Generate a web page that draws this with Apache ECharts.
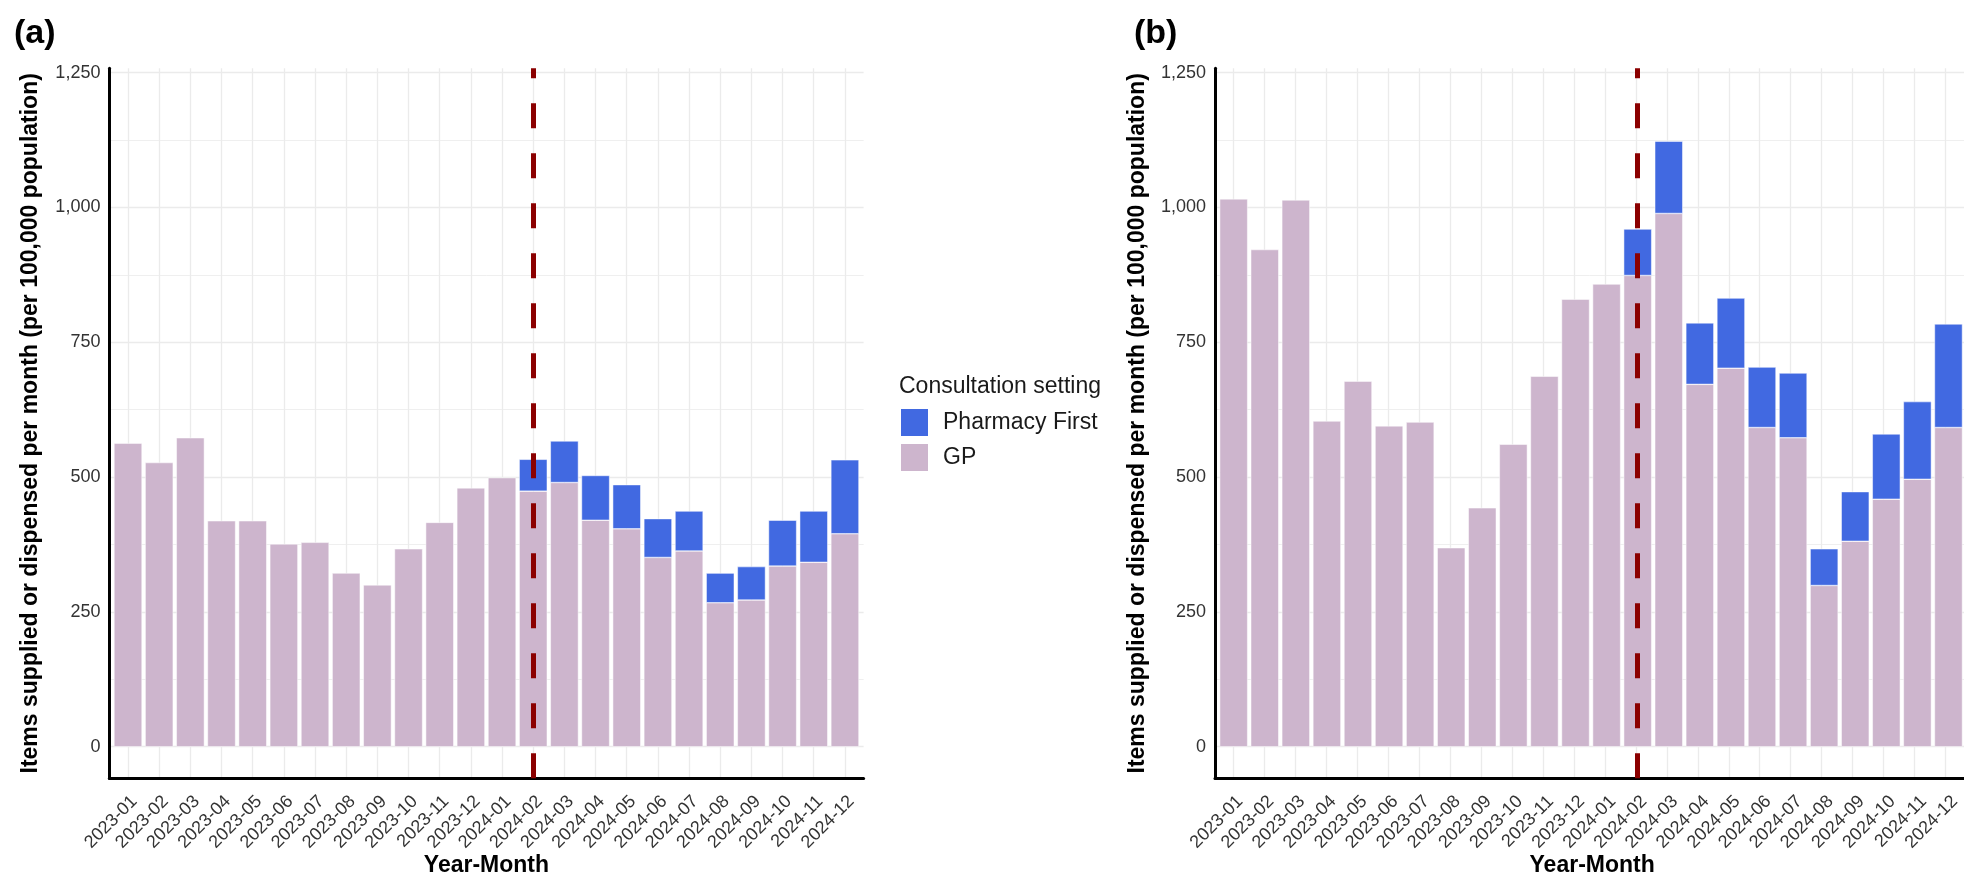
<!DOCTYPE html>
<html>
<head>
<meta charset="utf-8">
<script src="https://cdn.jsdelivr.net/npm/echarts@6/dist/echarts.min.js"></script>
<style>
html,body{margin:0;padding:0;background:#fff;}
#chart{width:1964px;height:878px;}
</style>
</head>
<body>
<div id="chart"></div>
<script>
// ---------------- data ----------------
const categories = ['2023-01','2023-02','2023-03','2023-04','2023-05','2023-06','2023-07','2023-08','2023-09','2023-10','2023-11','2023-12',
                    '2024-01','2024-02','2024-03','2024-04','2024-05','2024-06','2024-07','2024-08','2024-09','2024-10','2024-11','2024-12'];
const gpA = [563, 527, 573, 419, 419, 376, 379, 322, 300, 367, 416, 480, 499, 474, 490, 420, 404, 351, 363, 267, 272, 335, 342, 395];
const pfA = [null, null, null, null, null, null, null, null, null, null, null, null, null, 59, 77, 83, 82, 72, 74, 55, 62, 85, 95, 137];
const gpB = [1016, 922, 1014, 604, 678, 595, 602, 369, 443, 561, 687, 830, 858, 874, 989, 672, 702, 592, 573, 299, 381, 459, 496, 592];
const pfB = [null, null, null, null, null, null, null, null, null, null, null, null, null, 86, 134, 114, 130, 112, 120, 68, 92, 121, 144, 192];
const yTickValues = [0, 250, 500, 750, 1000, 1250];
const yMinorValues = [125, 375, 625, 875, 1125];
const interventionMonth = '2024-02';
const seriesNames = ['Pharmacy First', 'GP'];
const panelLabels = ['(a)', '(b)'];
const yTitle = 'Items supplied or dispensed per month (per 100,000 population)';
const xTitle = 'Year-Month';
const legendTitle = 'Consultation setting';

// ---------------- layout / style ----------------
const FONT = '"Liberation Sans", Arial, Helvetica, sans-serif';
const COL_GP = '#CDB5CD';
const COL_PF = '#4169E1';
const GRID_COL = '#EBEBEB';
const panelTop = 68.3, panelH = 710, unit = 31.17;
const panelW = unit * 24.2;           // 0.6 category expansion each side
const panelLefts = [109.3, 1215];
const yMin = -58.6, yMax = 1258.2;
const framePos = categories.map((c, i) => i + 1);

const chart = echarts.init(document.getElementById('chart'), null, {renderer: 'canvas'});

const grids = [], xAxes = [], yAxes = [], series = [];
[[gpA, pfA], [gpB, pfB]].forEach(([gp, pf], p) => {
  const fg = 2 * p, dg = 2 * p + 1;
  // frame grid: full panel (axis lines + grid lines)
  grids.push({left: panelLefts[p], top: panelTop, width: panelW, height: panelH, containLabel: false});
  // data grid: category bands
  grids.push({left: panelLefts[p] + 0.1 * unit, top: panelTop, width: 24 * unit, height: panelH, containLabel: false});

  xAxes.push({
    type: 'value', gridIndex: fg, min: 0.4, max: 24.6, z: 3,
    axisLine: {show: true, onZero: false, lineStyle: {color: '#000', width: 3}},
    axisTick: {show: false}, axisLabel: {show: false}, splitLine: {show: false}
  });
  yAxes.push({
    type: 'value', gridIndex: fg, min: yMin, max: yMax, z: 3,
    axisLine: {show: true, onZero: false, lineStyle: {color: '#000', width: 3}},
    axisTick: {show: false}, axisLabel: {show: false}, splitLine: {show: false}
  });
  xAxes.push({
    type: 'category', gridIndex: dg, data: categories, boundaryGap: true,
    axisLine: {show: false}, axisTick: {show: false}, splitLine: {show: false},
    axisLabel: {interval: 0, rotate: 45, fontSize: 18, fontFamily: FONT, color: '#333',
      margin: 14, align: 'right', verticalAlign: 'top'}
  });
  yAxes.push({
    type: 'value', gridIndex: dg, min: yMin, max: yMax,
    axisLine: {show: false}, axisTick: {show: false, customValues: yTickValues}, splitLine: {show: false},
    axisLabel: {customValues: yTickValues, formatter: v => Number(v).toLocaleString('en-US'),
      fontSize: 18, fontFamily: FONT, color: '#333', margin: 12}
  });

  const gridLines = []
    .concat(framePos.map(v => ({xAxis: v, lineStyle: {width: 1.3}})))
    .concat(yTickValues.map(v => ({yAxis: v, lineStyle: {width: 1.3}})))
    .concat(yMinorValues.map(v => ({yAxis: v, lineStyle: {width: 0.8}})));
  series.push({
    name: 'grid' + p, type: 'line', xAxisIndex: fg, yAxisIndex: fg, data: [], silent: true,
    markLine: {silent: true, z: 1, symbol: ['none', 'none'], label: {show: false}, animation: false,
      lineStyle: {color: GRID_COL, type: 'solid'}, data: gridLines}
  });
  series.push({
    name: 'GP', type: 'bar', stack: 'tot' + p, xAxisIndex: dg, yAxisIndex: dg,
    barWidth: '90%', animation: false,
    itemStyle: {color: COL_GP, borderColor: '#fff', borderWidth: 0.5},
    data: gp
  });
  series.push({
    name: 'Pharmacy First', type: 'bar', stack: 'tot' + p, xAxisIndex: dg, yAxisIndex: dg,
    barWidth: '90%', animation: false,
    itemStyle: {color: COL_PF, borderColor: '#fff', borderWidth: 0.5},
    data: pf,
    markLine: {silent: true, z: 10, symbol: ['none', 'none'], label: {show: false}, animation: false,
      lineStyle: {color: '#8B0000', width: 5, type: [25, 25], dashOffset: 0},
      data: [{xAxis: interventionMonth}]}
  });
});

const boldText = (x, y, text, size, extra) => Object.assign({
  type: 'text', x: x, y: y, silent: true,
  style: {text: text, fontSize: size, fontWeight: 'bold', fontFamily: FONT, fill: '#000', align: 'center', verticalAlign: 'middle'}
}, extra || {});

const graphics = [
  {type: 'text', x: 14, y: 34, silent: true,
   style: {text: panelLabels[0], fontSize: 34, fontWeight: 'bold', fontFamily: FONT, fill: '#000', align: 'left', verticalAlign: 'middle'}},
  {type: 'text', x: 1134, y: 34, silent: true,
   style: {text: panelLabels[1], fontSize: 34, fontWeight: 'bold', fontFamily: FONT, fill: '#000', align: 'left', verticalAlign: 'middle'}},
  boldText(31, panelTop + panelH / 2, yTitle, 23, {rotation: Math.PI / 2}),
  boldText(1137.5, panelTop + panelH / 2, yTitle, 23, {rotation: Math.PI / 2}),
  boldText(panelLefts[0] + panelW / 2, 866, xTitle, 23),
  boldText(panelLefts[1] + panelW / 2, 866, xTitle, 23),
  {type: 'text', x: 899, y: 387, silent: true,
   style: {text: legendTitle, fontSize: 23, fontFamily: FONT, fill: '#1a1a1a', align: 'left', verticalAlign: 'middle'}}
];

chart.setOption({
  animation: false,
  backgroundColor: '#fff',
  grid: grids,
  xAxis: xAxes,
  yAxis: yAxes,
  series: series,
  legend: {
    data: seriesNames, orient: 'vertical', left: 899, top: 407, padding: 0,
    itemWidth: 29, itemHeight: 29, itemGap: 4, icon: 'rect', selectedMode: false,
    textStyle: {fontSize: 23, fontFamily: FONT, color: '#1a1a1a', padding: [0, 0, 0, 9]}
  },
  graphic: graphics
});
</script>
</body>
</html>
